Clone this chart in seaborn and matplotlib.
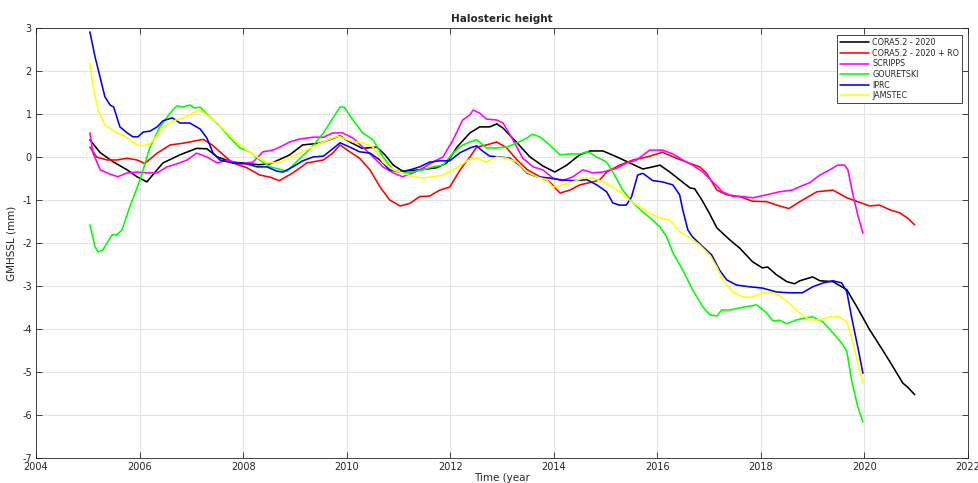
# Halosteric height - global mean halosteric sea level from several products
import seaborn as sns
import matplotlib.pyplot as plt
import pandas as pd

# values (year, mm)
cora_years = [2005.04, 2005.24, 2005.5, 2005.76, 2005.95, 2006.14, 2006.45, 2006.78, 2007.1, 2007.3,
              2007.5, 2007.8, 2008.07, 2008.3, 2008.52, 2008.9, 2009.15, 2009.48, 2009.87, 2010.06,
              2010.3, 2010.58, 2010.74, 2010.9, 2011.08, 2011.41, 2011.74, 2011.93, 2012.13, 2012.38,
              2012.57, 2012.76, 2012.9, 2013.02, 2013.29, 2013.54, 2013.79, 2014.02, 2014.25, 2014.5,
              2014.7, 2014.95, 2015.22, 2015.47, 2015.72, 2015.91, 2016.05, 2016.24, 2016.43, 2016.63,
              2016.72, 2016.86, 2017.0, 2017.15, 2017.4, 2017.59, 2017.84, 2018.03, 2018.13, 2018.3,
              2018.5, 2018.65, 2018.75, 2019.0, 2019.14, 2019.39, 2019.66, 2019.85, 2020.1, 2020.35,
              2020.55, 2020.74, 2020.83, 2020.97]
cora_vals = [0.40, 0.10, -0.12, -0.30, -0.46, -0.58, -0.14, 0.05, 0.20, 0.19,
             0.00, -0.12, -0.15, -0.18, -0.16, 0.05, 0.28, 0.32, 0.49, 0.35,
             0.20, 0.23, 0.05, -0.19, -0.33, -0.30, -0.25, -0.14, 0.23, 0.56,
             0.70, 0.70, 0.77, 0.67, 0.33, 0.00, -0.21, -0.35, -0.19, 0.05,
             0.14, 0.14, 0.00, -0.14, -0.28, -0.23, -0.19, -0.35, -0.53, -0.72,
             -0.74, -1.00, -1.30, -1.65, -1.93, -2.12, -2.44, -2.58, -2.56, -2.74,
             -2.90, -2.95, -2.88, -2.79, -2.88, -2.90, -3.09, -3.48, -4.02, -4.49,
             -4.88, -5.26, -5.35, -5.53]

cora_ro_years = [2005.04, 2005.17, 2005.37, 2005.56, 2005.76, 2005.95, 2006.1, 2006.34, 2006.59, 2006.84,
                 2007.1, 2007.23, 2007.4, 2007.55, 2007.8, 2008.07, 2008.32, 2008.52, 2008.7, 2008.96,
                 2009.23, 2009.55, 2009.73, 2009.87, 2010.06, 2010.25, 2010.45, 2010.64, 2010.83, 2011.03,
                 2011.22, 2011.41, 2011.6, 2011.8, 2011.99, 2012.19, 2012.38, 2012.51, 2012.7, 2012.9,
                 2013.09, 2013.29, 2013.48, 2013.73, 2013.92, 2014.12, 2014.31, 2014.5, 2014.75, 2014.89,
                 2015.02, 2015.27, 2015.53, 2015.8, 2016.1, 2016.37, 2016.63, 2016.82, 2016.95, 2017.15,
                 2017.34, 2017.59, 2017.84, 2018.11, 2018.36, 2018.54, 2018.75, 2019.08, 2019.39, 2019.66,
                 2019.87, 2020.1, 2020.29, 2020.49, 2020.68, 2020.83, 2020.97]
cora_ro_vals = [0.23, 0.00, -0.07, -0.07, -0.03, -0.07, -0.15, 0.09, 0.28, 0.32,
                0.38, 0.41, 0.28, 0.12, -0.14, -0.25, -0.42, -0.47, -0.55, -0.37,
                -0.14, -0.07, 0.09, 0.28, 0.12, -0.03, -0.30, -0.69, -1.00, -1.14,
                -1.08, -0.92, -0.91, -0.77, -0.70, -0.30, 0.00, 0.23, 0.28, 0.35,
                0.21, -0.07, -0.29, -0.46, -0.58, -0.84, -0.77, -0.65, -0.58, -0.53,
                -0.35, -0.19, -0.07, 0.00, 0.11, -0.03, -0.15, -0.23, -0.38, -0.77,
                -0.88, -0.92, -1.03, -1.04, -1.14, -1.20, -1.04, -0.81, -0.77, -0.95,
                -1.04, -1.14, -1.12, -1.23, -1.30, -1.42, -1.58]

scripps_years = [2005.04, 2005.1, 2005.24, 2005.43, 2005.58, 2005.76, 2005.95, 2006.14, 2006.34, 2006.53,
                 2006.72, 2006.92, 2007.1, 2007.3, 2007.5, 2007.69, 2007.94, 2008.19, 2008.38, 2008.58,
                 2008.71, 2008.9, 2009.1, 2009.35, 2009.55, 2009.73, 2009.92, 2010.12, 2010.31, 2010.51,
                 2010.7, 2010.9, 2011.08, 2011.28, 2011.47, 2011.66, 2011.86, 2012.05, 2012.24, 2012.38,
                 2012.44, 2012.57, 2012.7, 2012.9, 2013.02, 2013.21, 2013.4, 2013.6, 2013.79, 2013.98,
                 2014.17, 2014.37, 2014.56, 2014.75, 2014.95, 2015.22, 2015.41, 2015.6, 2015.85, 2016.1,
                 2016.3, 2016.49, 2016.68, 2016.88, 2017.07, 2017.26, 2017.46, 2017.65, 2017.84, 2018.11,
                 2018.36, 2018.61, 2018.75, 2018.94, 2019.14, 2019.33, 2019.48, 2019.62, 2019.68, 2019.77,
                 2019.87, 2019.97]
scripps_vals = [0.56, 0.09, -0.30, -0.40, -0.46, -0.37, -0.35, -0.37, -0.37, -0.23,
                -0.16, -0.07, 0.09, 0.00, -0.14, -0.07, -0.16, -0.12, 0.12, 0.16,
                0.23, 0.35, 0.42, 0.46, 0.46, 0.56, 0.56, 0.44, 0.23, 0.00,
                -0.23, -0.37, -0.46, -0.37, -0.26, -0.12, 0.00, 0.39, 0.86, 0.98,
                1.09, 1.02, 0.88, 0.86, 0.79, 0.40, -0.03, -0.23, -0.30, -0.49,
                -0.55, -0.46, -0.30, -0.37, -0.35, -0.26, -0.14, -0.07, 0.16, 0.16,
                0.07, -0.07, -0.19, -0.35, -0.58, -0.81, -0.92, -0.92, -0.95, -0.88,
                -0.81, -0.77, -0.69, -0.60, -0.42, -0.30, -0.19, -0.19, -0.30, -0.84,
                -1.35, -1.77]

gouretski_years = [2005.04, 2005.14, 2005.2, 2005.29, 2005.47, 2005.56, 2005.66, 2005.81, 2006.01, 2006.2,
                   2006.39, 2006.59, 2006.72, 2006.84, 2006.97, 2007.07, 2007.17, 2007.36, 2007.55, 2007.75,
                   2007.94, 2008.13, 2008.32, 2008.52, 2008.85, 2009.04, 2009.35, 2009.55, 2009.73, 2009.87,
                   2009.95, 2010.12, 2010.31, 2010.51, 2010.7, 2010.9, 2011.08, 2011.28, 2011.47, 2011.66,
                   2011.86, 2012.05, 2012.24, 2012.38, 2012.51, 2012.7, 2012.9, 2013.09, 2013.29, 2013.48,
                   2013.58, 2013.73, 2013.92, 2014.12, 2014.31, 2014.5, 2014.66, 2014.83, 2015.02, 2015.14,
                   2015.33, 2015.53, 2015.72, 2015.91, 2016.05, 2016.18, 2016.3, 2016.49, 2016.68, 2016.88,
                   2017.01, 2017.15, 2017.24, 2017.4, 2017.59, 2017.78, 2017.92, 2018.11, 2018.23, 2018.36,
                   2018.5, 2018.69, 2018.88, 2019.0, 2019.2, 2019.39, 2019.56, 2019.66, 2019.75, 2019.87,
                   2019.97]
gouretski_vals = [-1.58, -2.09, -2.21, -2.16, -1.81, -1.81, -1.70, -1.16, -0.53, 0.23,
                  0.70, 1.02, 1.19, 1.16, 1.21, 1.14, 1.16, 0.93, 0.72, 0.44,
                  0.21, 0.12, -0.07, -0.23, -0.33, -0.10, 0.26, 0.56, 0.90, 1.16,
                  1.16, 0.86, 0.56, 0.40, 0.00, -0.30, -0.37, -0.35, -0.30, -0.23,
                  -0.19, 0.09, 0.28, 0.35, 0.40, 0.21, 0.21, 0.23, 0.33, 0.44,
                  0.53, 0.47, 0.28, 0.05, 0.07, 0.07, 0.12, 0.00, -0.12, -0.35,
                  -0.77, -1.07, -1.28, -1.47, -1.63, -1.86, -2.23, -2.63, -3.09, -3.49,
                  -3.67, -3.70, -3.56, -3.56, -3.51, -3.47, -3.44, -3.63, -3.81, -3.80,
                  -3.88, -3.79, -3.74, -3.72, -3.84, -4.09, -4.33, -4.53, -5.19, -5.81,
                  -6.16]

iprc_years = [2005.04, 2005.14, 2005.24, 2005.33, 2005.43, 2005.5, 2005.62, 2005.76, 2005.87, 2005.97,
              2006.07, 2006.2, 2006.34, 2006.45, 2006.63, 2006.78, 2006.97, 2007.17, 2007.3, 2007.42,
              2007.55, 2007.8, 2008.07, 2008.27, 2008.46, 2008.65, 2008.77, 2008.96, 2009.15, 2009.35,
              2009.55, 2009.73, 2009.87, 2010.06, 2010.25, 2010.45, 2010.64, 2010.83, 2011.03, 2011.22,
              2011.41, 2011.6, 2011.8, 2011.99, 2012.19, 2012.38, 2012.51, 2012.6, 2012.76, 2012.96,
              2013.15, 2013.34, 2013.48, 2013.67, 2013.92, 2014.12, 2014.37, 2014.64, 2014.83, 2015.02,
              2015.14, 2015.27, 2015.4, 2015.5, 2015.62, 2015.72, 2015.91, 2016.1, 2016.3, 2016.43,
              2016.49, 2016.59, 2016.68, 2016.88, 2017.05, 2017.2, 2017.34, 2017.53, 2017.78, 2018.03,
              2018.3, 2018.56, 2018.8, 2019.0, 2019.2, 2019.39, 2019.56, 2019.66, 2019.75, 2019.87,
              2019.97]
iprc_vals = [2.91, 2.33, 1.84, 1.40, 1.21, 1.16, 0.70, 0.56, 0.47, 0.47,
             0.58, 0.60, 0.70, 0.84, 0.91, 0.79, 0.79, 0.65, 0.44, 0.09,
             -0.07, -0.14, -0.16, -0.23, -0.23, -0.33, -0.35, -0.23, -0.09, 0.00,
             0.02, 0.19, 0.33, 0.23, 0.12, 0.09, -0.07, -0.30, -0.35, -0.30,
             -0.23, -0.12, -0.09, -0.09, 0.10, 0.21, 0.26, 0.16, 0.02, 0.00,
             -0.03, -0.19, -0.37, -0.46, -0.49, -0.53, -0.55, -0.53, -0.65, -0.81,
             -1.07, -1.12, -1.12, -0.93, -0.42, -0.38, -0.55, -0.58, -0.65, -0.88,
             -1.23, -1.70, -1.86, -2.09, -2.28, -2.63, -2.86, -2.98, -3.02, -3.05,
             -3.14, -3.16, -3.16, -3.02, -2.93, -2.88, -2.93, -3.14, -3.72, -4.42,
             -5.03]

jamstec_years = [2005.04, 2005.1, 2005.2, 2005.33, 2005.43, 2005.56, 2005.68, 2005.81, 2005.95, 2006.07,
                 2006.2, 2006.34, 2006.45, 2006.65, 2006.84, 2007.03, 2007.17, 2007.3, 2007.5, 2007.69,
                 2007.88, 2008.07, 2008.27, 2008.46, 2008.71, 2008.96, 2009.2, 2009.45, 2009.73, 2009.85,
                 2010.12, 2010.31, 2010.51, 2010.7, 2010.9, 2011.08, 2011.28, 2011.47, 2011.66, 2011.86,
                 2012.05, 2012.24, 2012.38, 2012.51, 2012.7, 2012.9, 2013.09, 2013.29, 2013.48, 2013.67,
                 2013.86, 2013.98, 2014.17, 2014.37, 2014.56, 2014.75, 2014.95, 2015.14, 2015.33, 2015.53,
                 2015.72, 2015.91, 2016.05, 2016.24, 2016.43, 2016.63, 2016.82, 2017.01, 2017.15, 2017.26,
                 2017.46, 2017.65, 2017.84, 2018.03, 2018.23, 2018.36, 2018.56, 2018.75, 2018.94, 2019.14,
                 2019.33, 2019.52, 2019.66, 2019.75, 2019.87, 2019.97]
jamstec_vals = [2.19, 1.63, 1.09, 0.74, 0.67, 0.56, 0.51, 0.40, 0.28, 0.26,
                0.30, 0.51, 0.70, 0.84, 0.91, 1.02, 1.09, 0.98, 0.79, 0.56,
                0.33, 0.16, 0.00, -0.14, -0.12, 0.02, 0.15, 0.30, 0.44, 0.48,
                0.35, 0.33, 0.23, -0.12, -0.30, -0.37, -0.46, -0.49, -0.46, -0.42,
                -0.30, -0.16, -0.05, -0.03, -0.12, 0.00, -0.03, -0.12, -0.35, -0.46,
                -0.53, -0.70, -0.65, -0.58, -0.49, -0.49, -0.58, -0.70, -0.86, -1.07,
                -1.20, -1.35, -1.41, -1.47, -1.74, -1.88, -2.05, -2.28, -2.56, -2.86,
                -3.14, -3.26, -3.26, -3.16, -3.16, -3.23, -3.42, -3.63, -3.79, -3.79,
                -3.72, -3.72, -3.84, -4.19, -4.79, -5.26]

labels = ['CORA5.2 - 2020', 'CORA5.2 - 2020 + RO', 'SCRIPPS', 'GOURETSKI', 'IPRC', 'JAMSTEC']
colors = ['#000000', '#ff0000', '#ff00ff', '#00ff00', '#0000ff', '#ffff00']
series = [(cora_years, cora_vals), (cora_ro_years, cora_ro_vals), (scripps_years, scripps_vals),
          (gouretski_years, gouretski_vals), (iprc_years, iprc_vals), (jamstec_years, jamstec_vals)]

# long table for seaborn
frames = []
for name, (yrs, vals) in zip(labels, series):
    frames.append(pd.DataFrame({'Time': yrs, 'GMHSSL': vals, 'Product': name}))
df = pd.concat(frames, ignore_index=True)

sns.set_style("whitegrid")
plt.rcParams['font.family'] = ['DejaVu Sans']
plt.rcParams['axes.unicode_minus'] = False

fig = plt.figure(figsize=(9.79, 4.83), dpi=100)
ax = fig.add_axes([0.0368, 0.052, 0.952, 0.890])

sns.lineplot(data=df, x='Time', y='GMHSSL', hue='Product', hue_order=labels,
             palette=dict(zip(labels, colors)), estimator=None, sort=False,
             linewidth=1.15, ax=ax)

# matlab-ish axes
ax.set_xlim(2004, 2022)
ax.set_ylim(-7, 3)
ax.set_xticks(range(2004, 2023, 2))
ax.set_yticks(range(-7, 4))
ax.grid(True, color='#e3e3e3', linewidth=0.8)
for sp in ax.spines.values():
    sp.set_visible(True)
    sp.set_color('#262626')
    sp.set_linewidth(0.6)
ax.tick_params(direction='in', length=4, width=0.6, colors='#262626', labelsize=7,
               top=True, right=True, left=True, bottom=True, pad=3)

ax.set_title('Halosteric height', fontsize=7.5, fontweight='bold', pad=4)
ax.set_xlabel('Time (year', fontsize=7.5, color='#262626', labelpad=1)
ax.set_ylabel('GMHSSL (mm)', fontsize=7.5, color='#262626', labelpad=4)

leg = ax.legend(loc='upper right', bbox_to_anchor=(0.994, 0.984), borderaxespad=0,
                fontsize=5.8, frameon=True, fancybox=False, framealpha=1,
                edgecolor='#262626', handlelength=3.6, labelspacing=0.2,
                borderpad=0.4, handletextpad=0.4)
leg.get_frame().set_linewidth(0.6)

plt.savefig('out.png', dpi=100)
plt.close()
